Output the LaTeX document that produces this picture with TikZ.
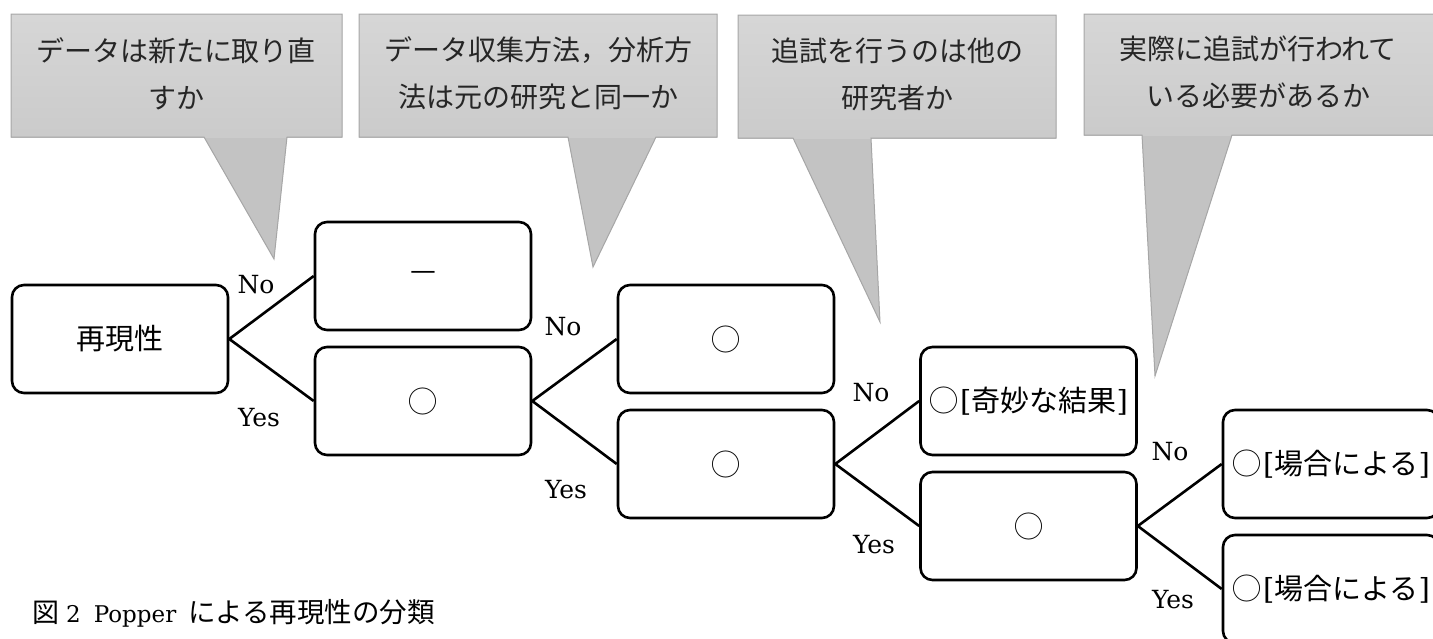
\documentclass[tikz,border=0pt]{standalone}
\usepackage{fontspec}
\setmainfont{DejaVu Serif}
\newfontfamily\jp{Noto Sans CJK JP}
\begin{document}
\begin{tikzpicture}[x=1pt,y=-1pt,
  box/.style={draw, line width=2.6pt, rounded corners=12pt, minimum width=216pt, minimum height=108pt, inner sep=0pt, fill=white, font=\fontsize{29}{34}\selectfont},
  conn/.style={line width=2.6pt},
  lbl/.style={font=\fontsize{25}{30}\selectfont, inner sep=0pt},
  ctext/.style={align=center, font=\jp\fontsize{28}{47}\selectfont, inner sep=0pt, text=black!85},
  pfill/.style={fill=gray!47, draw=none},
  rshade/.style={top color=gray!32, bottom color=gray!41, draw=none},
  cline/.style={draw=gray!70, line width=1pt}]
\useasboundingbox (0,0) rectangle (1433,638);

% callout 1
\fill[pfill] (11,14) -- (342,14) -- (342,137) -- (287,137) -- (274,259) -- (204,137) -- (11,137) -- cycle;
\shade[rshade] (11,14) rectangle (342,137);
\draw[cline] (11,14) -- (342,14) -- (342,137) -- (287,137) -- (274,259) -- (204,137) -- (11,137) -- cycle;
\node[ctext] (c1) at (176,73.5) {データは新たに取り直\\すか};

% callout 2
\fill[pfill] (359,14) -- (717,14) -- (717,137) -- (656,137) -- (593,267) -- (568,137) -- (359,137) -- cycle;
\shade[rshade] (359,14) rectangle (717,137);
\draw[cline] (359,14) -- (717,14) -- (717,137) -- (656,137) -- (593,267) -- (568,137) -- (359,137) -- cycle;
\node[ctext] (c2) at (538,73.5) {データ収集方法，分析方\\法は元の研究と同一か};

% callout 3
\fill[pfill] (738,15) -- (1056,15) -- (1056,138) -- (871,138) -- (880,322) -- (793,138) -- (738,138) -- cycle;
\shade[rshade] (738,15) rectangle (1056,138);
\draw[cline] (738,15) -- (1056,15) -- (1056,138) -- (871,138) -- (880,322) -- (793,138) -- (738,138) -- cycle;
\node[ctext] (c3) at (897,74) {追試を行うのは他の\\研究者か};

% callout 4
\fill[pfill] (1084,14) -- (1440,14) -- (1440,135) -- (1232,135) -- (1155,376) -- (1142,135) -- (1084,135) -- cycle;
\shade[rshade] (1084,14) rectangle (1440,135);
\draw[cline] (1084,14) -- (1440,14) -- (1440,135) -- (1232,135) -- (1155,376) -- (1142,135) -- (1084,135) -- cycle;
\node[ctext] (c4) at (1258,72.5) {実際に追試が行われて\\いる必要があるか};

% boxes
\node[box] (b0) at (120,339) {\jp 再現性};
\node[box] (b1) at (423,276) {\jp —};
\node[box] (b2) at (423,401) {\jp ◯};
\node[box] (b3) at (726,339) {\jp ◯};
\node[box] (b4) at (726,464) {\jp ◯};
\node[box] (b5) at (1028.5,401) {{\jp ◯}\kern2pt[{\jp 奇妙な結果}]};
\node[box] (b6) at (1028.5,526) {\jp ◯};
\node[box] (b7) at (1331,464) {{\jp ◯}\kern2pt[{\jp 場合による}]};
\node[box] (b8) at (1331,589) {{\jp ◯}\kern2pt[{\jp 場合による}]};

% connectors
\draw[conn] (b0.east) -- (b1.west);
\draw[conn] (b0.east) -- (b2.west);
\draw[conn] (b2.east) -- (b3.west);
\draw[conn] (b2.east) -- (b4.west);
\draw[conn] (b4.east) -- (b5.west);
\draw[conn] (b4.east) -- (b6.west);
\draw[conn] (b6.east) -- (b7.west);
\draw[conn] (b6.east) -- (b8.west);

% labels
\node[lbl] (n1) at (256,285) {No};
\node[lbl] (y1) at (259,418) {Yes};
\node[lbl] (n2) at (563,327) {No};
\node[lbl] (y2) at (566,490) {Yes};
\node[lbl] (n3) at (871,393) {No};
\node[lbl] (y3) at (874,545) {Yes};
\node[lbl] (n4) at (1170,452) {No};
\node[lbl] (y4) at (1173,600) {Yes};

% caption
\node[anchor=west, inner sep=0pt, font=\fontsize{23}{28}\selectfont] (cap) at (32,613) {{\jp\fontsize{27}{28}\selectfont 図}\hspace{7pt}2\hspace{13pt}Popper\hspace{12pt}{\jp\fontsize{27.5}{28}\selectfont による再現性の分類}};
\end{tikzpicture}
\end{document}
